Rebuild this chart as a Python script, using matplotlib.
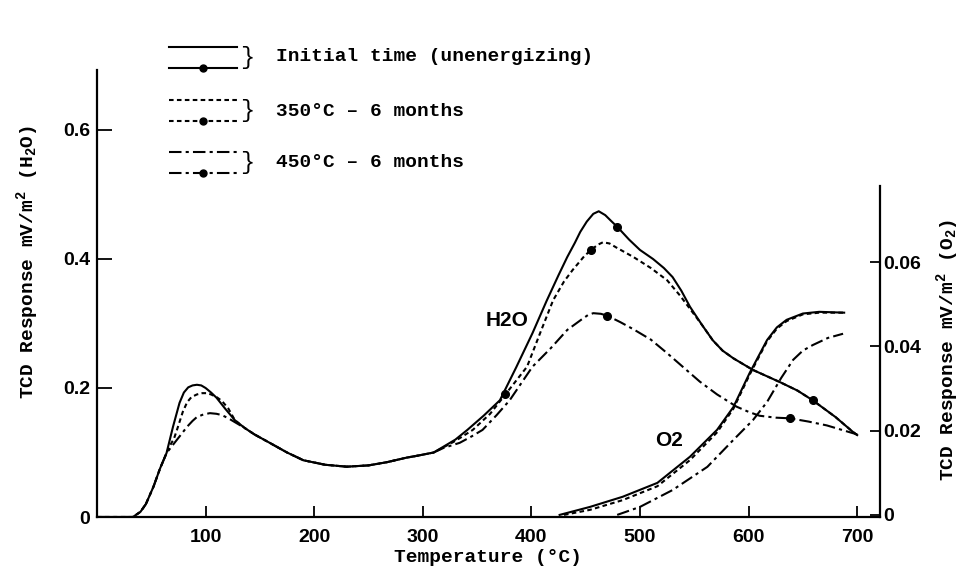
import matplotlib
matplotlib.use("Agg")
import matplotlib.pyplot as plt

# --- data ---------------------------------------------------------------
# H2O desorption (left axis), temperature in C
t_init = [0, 33, 40, 45, 52, 58, 64, 70, 76, 80, 84, 88, 92, 96, 100, 105, 110, 118,
          127, 136, 145, 159, 175, 190, 210, 230, 250, 267, 285, 295, 310, 319,
          330, 341, 356, 371, 386, 401, 414, 425, 433, 440, 445, 451, 457, 462,
          468, 474, 479, 490, 500, 512, 522, 530, 538, 546, 557, 567, 576, 586,
          604, 629, 645, 659, 680, 696, 700]
h2o_init = [0, 0, 0.008, 0.02, 0.047, 0.075, 0.099, 0.14, 0.177, 0.193, 0.201,
            0.204, 0.205, 0.204, 0.200, 0.193, 0.185, 0.168, 0.150, 0.138, 0.128,
            0.115, 0.100, 0.088, 0.081, 0.078, 0.080, 0.085, 0.092, 0.095, 0.100,
            0.109, 0.120, 0.135, 0.157, 0.181, 0.232, 0.285, 0.335, 0.375, 0.403,
            0.425, 0.442, 0.458, 0.470, 0.474, 0.468, 0.458, 0.450, 0.430, 0.414,
            0.400, 0.386, 0.372, 0.351, 0.326, 0.298, 0.274, 0.258, 0.246, 0.228,
            0.209, 0.196, 0.181, 0.155, 0.132, 0.127]

t_350 = [0, 33, 40, 45, 52, 58, 64, 67, 71, 74, 79, 83, 87, 92, 97, 101, 105, 110,
         115, 121, 127, 136, 145, 159, 175, 190, 210, 230, 250, 267, 285, 295,
         310, 319, 330, 346, 362, 377, 396, 408, 420, 430, 438, 449, 455, 461,
         466, 472, 478, 494, 510, 525, 537, 549, 557, 567, 576, 586, 604, 629,
         645, 659, 680, 696, 700]
h2o_350 = [0, 0, 0.008, 0.02, 0.047, 0.075, 0.099, 0.11, 0.122, 0.137, 0.163,
           0.178, 0.186, 0.190, 0.192, 0.192, 0.19, 0.186, 0.180, 0.168, 0.150,
           0.138, 0.128, 0.115, 0.100, 0.088, 0.081, 0.078, 0.080, 0.085, 0.092,
           0.095, 0.100, 0.108, 0.118, 0.135, 0.16, 0.192, 0.233, 0.285, 0.336,
           0.365, 0.383, 0.405, 0.414, 0.422, 0.426, 0.424, 0.418, 0.403, 0.386,
           0.367, 0.343, 0.316, 0.298, 0.274, 0.258, 0.246, 0.228, 0.209, 0.196,
           0.181, 0.155, 0.132, 0.127]

t_450 = [0, 33, 40, 45, 52, 58, 64, 70, 77, 83, 88, 92, 98, 104, 110, 115, 121,
         127, 136, 145, 159, 175, 190, 210, 230, 250, 267, 285, 295, 310, 319,
         334, 345, 355, 368, 380, 401, 418, 433, 446, 452, 457, 464, 470, 482,
         494, 510, 525, 540, 555, 571, 589, 600, 610, 625, 638, 655, 672, 690, 700]
h2o_450 = [0, 0, 0.008, 0.02, 0.047, 0.075, 0.099, 0.112, 0.127, 0.14, 0.149,
           0.155, 0.159, 0.161, 0.160, 0.158, 0.153, 0.147, 0.138, 0.128, 0.115,
           0.100, 0.088, 0.081, 0.078, 0.080, 0.085, 0.092, 0.095, 0.100, 0.107,
           0.115, 0.125, 0.135, 0.158, 0.181, 0.233, 0.262, 0.290, 0.306, 0.313,
           0.316, 0.315, 0.312, 0.302, 0.291, 0.275, 0.254, 0.232, 0.210, 0.190,
           0.171, 0.163, 0.157, 0.154, 0.153, 0.148, 0.142, 0.133, 0.128]

# O2 desorption (right axis)
t_o2_init = [426, 454, 484, 516, 546, 571, 586, 601, 617, 626, 635, 650, 665, 688]
o2_init = [0, 0.0019, 0.0043, 0.0076, 0.0138, 0.0202, 0.0256, 0.0337, 0.0415,
           0.0445, 0.0463, 0.0478, 0.0482, 0.048]
t_o2_350 = [430, 454, 484, 516, 546, 571, 586, 601, 617, 626, 635, 650, 665, 688]
o2_350 = [0, 0.0012, 0.0035, 0.0068, 0.0130, 0.0196, 0.0252, 0.0333, 0.0412,
          0.0442, 0.0460, 0.0476, 0.0480, 0.048]
t_o2_450 = [479, 500, 530, 562, 586, 604, 617, 630, 641, 650, 659, 673, 687]
o2_450 = [0, 0.0019, 0.0059, 0.0114, 0.0178, 0.0225, 0.0268, 0.0325, 0.0368,
          0.0390, 0.0403, 0.0420, 0.0430]

# dots drawn on the curves
mark_init = ([479, 659], [0.450, 0.181])
mark_350 = ([455, 376], [0.414, 0.190])
mark_450 = ([470, 638], [0.312, 0.153])

xticks = [100, 200, 300, 400, 500, 600, 700]
yticks_h2o = [0, 0.2, 0.4, 0.6]
ylabels_h2o = ["0", "0.2", "0.4", "0.6"]
yticks_o2 = [0, 0.02, 0.04, 0.06]
ylabels_o2 = ["0", "0.02", "0.04", "0.06"]

legend_labels = ["Initial time (unenergizing)", "350\u00b0C \u2013 6 months",
                 "450\u00b0C \u2013 6 months"]

# --- styles -------------------------------------------------------------
mono = "Liberation Mono"
sans = "Liberation Sans"
plt.rcParams["mathtext.fontset"] = "custom"
plt.rcParams["mathtext.rm"] = "Liberation Mono:bold"
plt.rcParams["mathtext.it"] = "Liberation Mono:bold"
plt.rcParams["mathtext.bf"] = "Liberation Mono:bold"
lw = 1.5
styles = [dict(ls="-"), dict(ls=(0, (2.2, 1.6))), dict(ls=(0, (6, 2, 1.5, 2)))]

fig = plt.figure(figsize=(9.62, 5.68), dpi=100)
ax = fig.add_axes([97 / 962, 51 / 568, 783 / 962, 447 / 568])
ax2 = ax.twinx()

ax.plot(t_init, h2o_init, color="k", lw=lw, **styles[0])
ax.plot(t_350, h2o_350, color="k", lw=lw, **styles[1])
ax.plot(t_450, h2o_450, color="k", lw=lw, **styles[2])
for mx, my in (mark_init, mark_350, mark_450):
    ax.plot(mx, my, "o", color="k", ms=5.5, ls="none")

ax2.plot(t_o2_init, o2_init, color="k", lw=lw, **styles[0])
ax2.plot(t_o2_350, o2_350, color="k", lw=lw, **styles[1])
ax2.plot(t_o2_450, o2_450, color="k", lw=lw, **styles[2])

ax.set_xlim(0, 721)
ax.set_ylim(0, 0.693)
ax2.set_ylim(-0.0005, 0.1056)

for a in (ax, ax2):
    a.spines["top"].set_visible(False)
ax.spines["right"].set_visible(False)
ax2.spines["left"].set_visible(False)
ax2.spines["bottom"].set_visible(False)
ax2.spines["right"].set_bounds(-0.0005, 0.078)
for s in ("left", "bottom"):
    ax.spines[s].set_linewidth(1.6)
ax2.spines["right"].set_linewidth(1.6)

ax.set_xticks(xticks)
ax.set_xticklabels([str(v) for v in xticks])
ax.set_yticks(yticks_h2o)
ax.set_yticklabels(ylabels_h2o)
ax2.set_yticks(yticks_o2)
ax2.set_yticklabels(ylabels_o2)

ax.tick_params(axis="x", direction="in", length=8, width=1.3, pad=9)
ax.tick_params(axis="y", direction="in", length=11, width=1.3, pad=5)
ax2.tick_params(axis="y", direction="in", length=7, width=1.3, pad=2)
for lab in ax.get_xticklabels() + ax.get_yticklabels() + ax2.get_yticklabels():
    lab.set_fontfamily(sans)
    lab.set_fontweight("bold")
    lab.set_fontsize(14)

ax.set_xlabel("Temperature (\u00b0C)", fontfamily=mono, fontweight="bold",
              fontsize=14, labelpad=2)
ax.set_ylabel("TCD Response mV/m$^2$ (H$_2$O)", fontfamily=mono,
              fontweight="bold", fontsize=14)
ax2.set_ylabel("TCD Response mV/m$^2$ (O$_2$)", fontfamily=mono,
               fontweight="bold", fontsize=14)
ax.yaxis.set_label_coords(-0.072, 0.57)
ax2.yaxis.set_label_coords(1.07, 0.374)

# curve names, placed in data units
ax.text(378, 0.305, "H2O", fontfamily=sans, fontweight="bold", fontsize=15,
        ha="center", va="center")
ax.text(527, 0.118, "O2", fontfamily=sans, fontweight="bold", fontsize=15,
        ha="center", va="center")

# hand-drawn style key with a brace
def px2ax(px, py):
    return (px - 97) / 783, (517 - py) / 447

key_rows = [(47, 68, 57), (100, 121, 112), (152, 173, 163)]
for (y1, y2, yt), st, label in zip(key_rows, styles, legend_labels):
    xa, ya1 = px2ax(169, y1)
    xb, ya2 = px2ax(237, y2)
    ax.plot([xa, xb], [ya1, ya1], color="k", lw=lw, transform=ax.transAxes,
            clip_on=False, **st)
    ax.plot([xa, xb], [ya2, ya2], color="k", lw=lw, transform=ax.transAxes,
            clip_on=False, **st)
    xm, _ = px2ax(203, y2)
    ax.plot([xm], [ya2], "o", color="k", ms=5, transform=ax.transAxes,
            clip_on=False)
    xbr, ybr = px2ax(247, (y1 + y2) / 2)
    ax.text(xbr, ybr, "}", fontfamily=mono, fontsize=17, ha="center",
            va="center", transform=ax.transAxes)
    xt, yta = px2ax(276, yt)
    ax.text(xt, yta, label, fontfamily=mono, fontweight="bold", fontsize=14,
            ha="left", va="center", transform=ax.transAxes)

fig.savefig("out.png", dpi=100)
